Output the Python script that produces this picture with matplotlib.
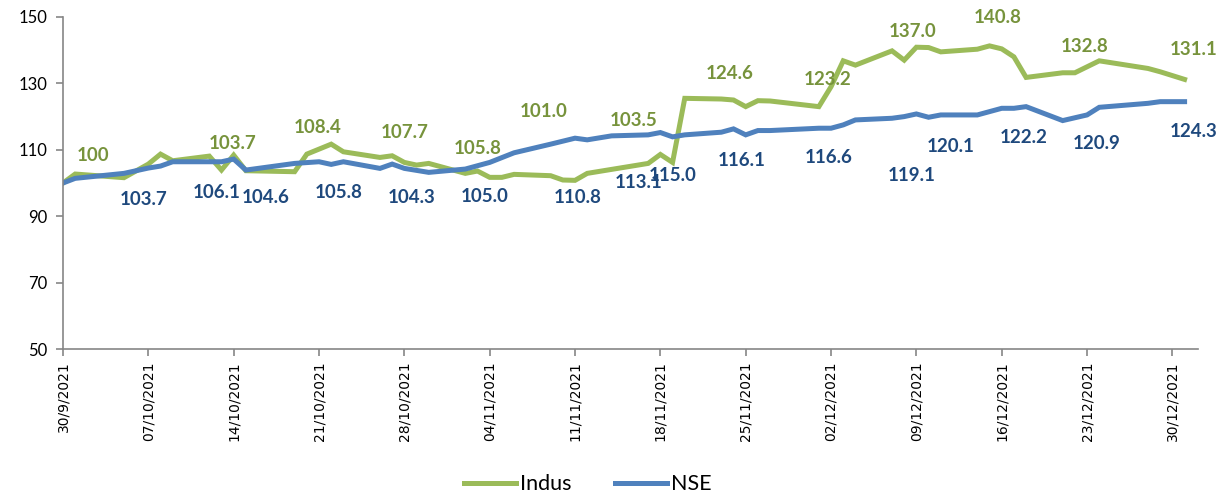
import pandas as pd
import matplotlib.pyplot as plt

# ------------------------------------------------------------
# Data (index, 30/9/2021 = 100)
# ------------------------------------------------------------
indus_dates = [
    "2021-09-30", "2021-10-01", "2021-10-05", "2021-10-07", "2021-10-08", "2021-10-09",
    "2021-10-12", "2021-10-13", "2021-10-14", "2021-10-15", "2021-10-19", "2021-10-20",
    "2021-10-22", "2021-10-23", "2021-10-26", "2021-10-27", "2021-10-28", "2021-10-29",
    "2021-10-30", "2021-11-02", "2021-11-03", "2021-11-04", "2021-11-05", "2021-11-06",
    "2021-11-09", "2021-11-10", "2021-11-11", "2021-11-12", "2021-11-17", "2021-11-18",
    "2021-11-19", "2021-11-20", "2021-11-23", "2021-11-24", "2021-11-25", "2021-11-26",
    "2021-11-27", "2021-12-01", "2021-12-02", "2021-12-03", "2021-12-04", "2021-12-07",
    "2021-12-08", "2021-12-09", "2021-12-10", "2021-12-11", "2021-12-14", "2021-12-15",
    "2021-12-16", "2021-12-17", "2021-12-18", "2021-12-21", "2021-12-22", "2021-12-23",
    "2021-12-24", "2021-12-28", "2021-12-29", "2021-12-31",
]
indus_values = [
    100.0, 102.7, 101.6, 105.7, 108.7, 106.7,
    108.1, 103.9, 108.4, 103.7, 103.4, 108.7,
    111.7, 109.4, 107.7, 108.2, 106.2, 105.4,
    105.9, 102.9, 103.6, 101.7, 101.7, 102.6,
    102.2, 100.9, 100.8, 102.9, 105.9, 108.6,
    106.2, 125.5, 125.3, 125.0, 123.0, 124.8,
    124.7, 123.0, 129.0, 136.8, 135.5, 139.8,
    137.0, 140.9, 140.8, 139.5, 140.3, 141.3,
    140.4, 138.0, 131.8, 133.2, 133.2, 135.0,
    136.8, 134.5, 133.5, 131.2,
]

nse_dates = [
    "2021-09-30", "2021-10-01", "2021-10-05", "2021-10-07", "2021-10-08", "2021-10-09",
    "2021-10-13", "2021-10-14", "2021-10-15", "2021-10-18", "2021-10-19", "2021-10-21",
    "2021-10-22", "2021-10-23", "2021-10-26", "2021-10-27", "2021-10-28", "2021-10-30",
    "2021-11-02", "2021-11-04", "2021-11-06", "2021-11-09", "2021-11-11", "2021-11-12",
    "2021-11-14", "2021-11-17", "2021-11-18", "2021-11-19", "2021-11-20", "2021-11-23",
    "2021-11-24", "2021-11-25", "2021-11-26", "2021-11-27", "2021-12-01", "2021-12-02",
    "2021-12-03", "2021-12-04", "2021-12-07", "2021-12-08", "2021-12-09", "2021-12-10",
    "2021-12-11", "2021-12-14", "2021-12-15", "2021-12-16", "2021-12-17", "2021-12-18",
    "2021-12-21", "2021-12-23", "2021-12-24", "2021-12-28", "2021-12-29", "2021-12-31",
]
nse_values = [
    100.0, 101.4, 102.9, 104.5, 105.1, 106.4,
    106.4, 107.2, 103.9, 105.4, 105.9, 106.4,
    105.6, 106.4, 104.4, 105.7, 104.4, 103.2,
    104.2, 106.2, 109.1, 111.7, 113.5, 113.0,
    114.2, 114.5, 115.2, 113.9, 114.5, 115.3,
    116.3, 114.5, 115.8, 115.8, 116.5, 116.5,
    117.5, 119.0, 119.5, 120.0, 120.8, 119.8,
    120.5, 120.5, 121.5, 122.5, 122.5, 123.0,
    118.8, 120.5, 122.8, 124.0, 124.5, 124.5,
]

# data label texts, with where they sit: days after 30/9/2021 and y value
indus_label_text = ["100", "103.7", "108.4", "107.7", "105.8", "101.0", "103.5",
                    "124.6", "123.2", "137.0", "140.8", "132.8", "131.1"]
indus_label_day = [2.5, 13.9, 20.9, 28.0, 34.0, 39.4, 46.8,
                   54.7, 62.7, 69.7, 76.7, 83.8, 92.7]
indus_label_y = [108.4, 112.0, 116.6, 115.1, 110.5, 121.4, 118.7,
                 133.1, 131.3, 145.5, 149.7, 141.0, 140.1]

nse_label_text = ["103.7", "106.1", "104.6", "105.8", "104.3", "105.0", "110.8", "113.1",
                  "115.0", "116.1", "116.6", "119.1", "120.1", "122.2", "120.9", "124.3"]
nse_label_day = [6.6, 12.6, 16.6, 22.6, 28.6, 34.6, 42.2, 47.2,
                 50.0, 55.7, 62.8, 69.6, 72.8, 78.8, 84.8, 92.7]
nse_label_y = [94.9, 97.0, 95.5, 97.0, 95.5, 95.8, 95.5, 100.0,
               102.4, 106.9, 107.8, 102.4, 111.1, 113.6, 112.0, 115.4]

tick_dates = pd.date_range("2021-09-30", "2021-12-30", freq="7D")
y_ticks = [50, 70, 90, 110, 130, 150]

GREEN = "#9BBB59"
BLUE = "#4F81BD"
GREEN_TXT = "#77933C"
BLUE_TXT = "#1F497D"
AXIS = "#868686"

start = pd.Timestamp("2021-09-30")

# ------------------------------------------------------------
# Figure
# ------------------------------------------------------------
fig = plt.figure(figsize=(12.25, 5.01), dpi=100)
ax = fig.add_axes([63 / 1225, 1 - 349 / 501, (1198 - 63) / 1225, (349 - 17) / 501])

ax.plot(pd.to_datetime(indus_dates), indus_values, color=GREEN, lw=3.6,
        solid_joinstyle="miter", label="Indus")
ax.plot(pd.to_datetime(nse_dates), nse_values, color=BLUE, lw=3.6,
        solid_joinstyle="miter", label="NSE")

for t, d, y in zip(indus_label_text, indus_label_day, indus_label_y):
    ax.text(start + pd.Timedelta(days=d), y, t, color=GREEN_TXT, fontsize=13.5,
            fontweight="bold", family="Lato", ha="center", va="center", clip_on=False)
for t, d, y in zip(nse_label_text, nse_label_day, nse_label_y):
    ax.text(start + pd.Timedelta(days=d), y, t, color=BLUE_TXT, fontsize=13.5,
            fontweight="bold", family="Lato", ha="center", va="center", clip_on=False)

ax.set_xlim(start, start + pd.Timedelta(days=93.1))
ax.set_ylim(50, 150)
ax.set_yticks(y_ticks)
ax.set_xticks(tick_dates)
ax.set_xticklabels([f"{d.day:02d}/{d.month:02d}/{d.year}" if i > 0 else "30/9/2021"
                    for i, d in enumerate(tick_dates)],
                   rotation=90, fontsize=10, family="DejaVu Sans")
for lbl in ax.get_yticklabels():
    lbl.set_family("Lato")
    lbl.set_fontsize(12)

for side in ("top", "right"):
    ax.spines[side].set_visible(False)
for side in ("left", "bottom"):
    ax.spines[side].set_color(AXIS)
    ax.spines[side].set_linewidth(1.2)
ax.tick_params(axis="both", direction="out", color=AXIS, length=5, width=1.2)
ax.tick_params(axis="x", pad=4)
ax.tick_params(axis="y", pad=6)

fig.legend(loc="lower center", bbox_to_anchor=(0.48, -0.025), ncol=2, frameon=False,
           prop={"family": "Lato", "size": 15.5}, handlelength=2.4, columnspacing=2.0,
           handletextpad=0.2)

fig.savefig("out.png", dpi=100)
